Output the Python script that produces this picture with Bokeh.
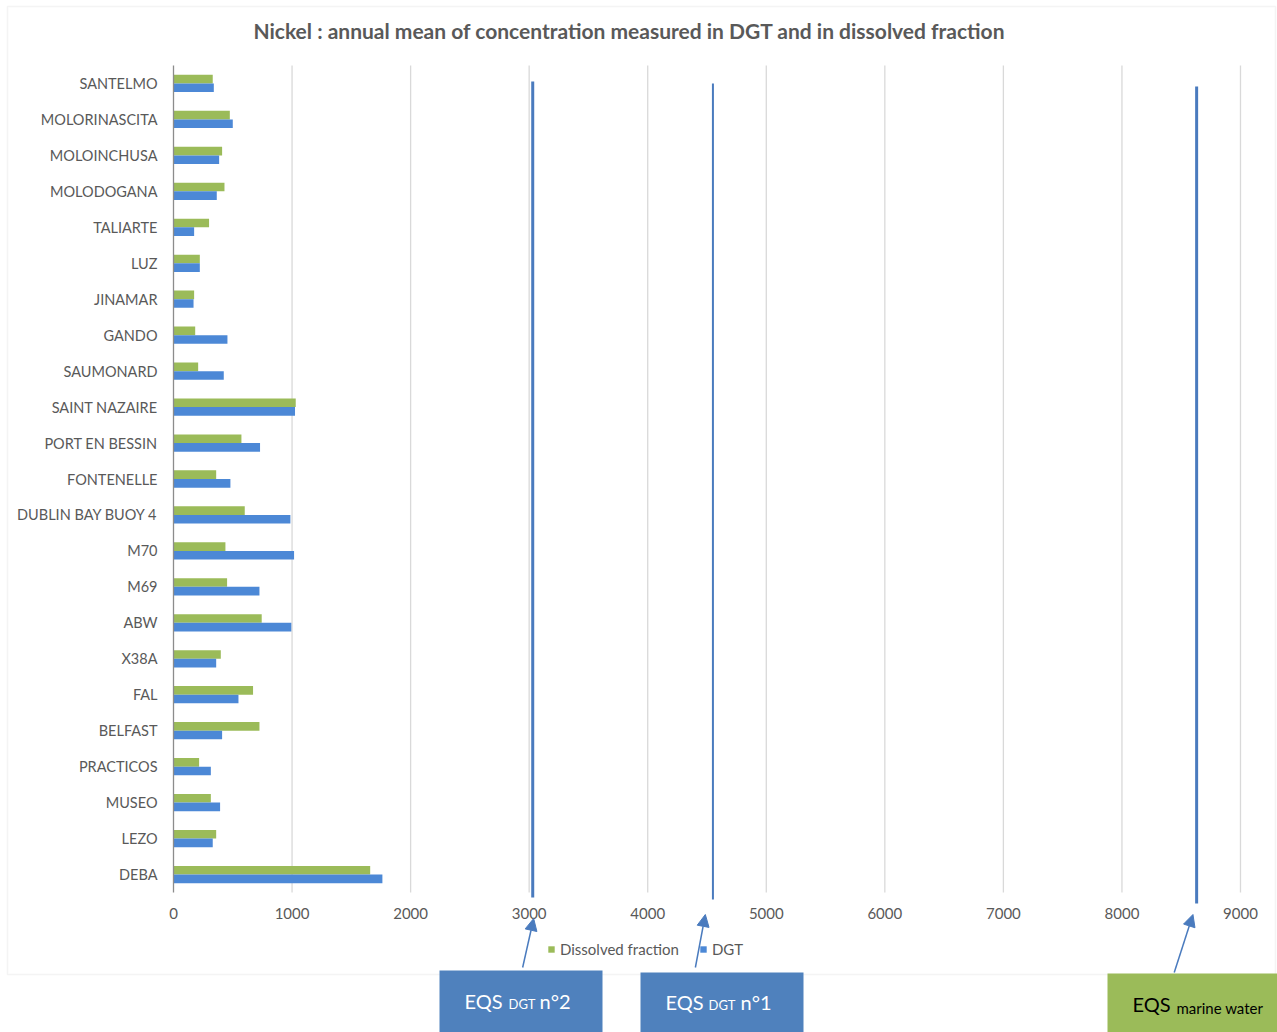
from bokeh.plotting import figure
from bokeh.models import (Range1d, FixedTicker, Legend, LegendItem, BoxAnnotation,
                          Label, Arrow, NormalHead, ColumnDataSource, LinearAxis)
from bokeh.transform import dodge
from bokeh.embed import file_html
from bokeh.resources import INLINE

# ---- data -------------------------------------------------------------
sites = ["SANTELMO", "MOLORINASCITA", "MOLOINCHUSA", "MOLODOGANA", "TALIARTE", "LUZ",
         "JINAMAR", "GANDO", "SAUMONARD", "SAINT NAZAIRE", "PORT EN BESSIN", "FONTENELLE",
         "DUBLIN BAY BUOY 4", "M70", "M69", "ABW", "X38A", "FAL", "BELFAST", "PRACTICOS",
         "MUSEO", "LEZO", "DEBA"]
dissolved = [331, 475, 410, 430, 300, 222, 174, 183, 208, 1031, 573, 360,
             601, 438, 452, 744, 399, 671, 725, 216, 315, 360, 1659]
dgt = [340, 500, 385, 365, 174, 222, 169, 455, 424, 1025, 730, 480,
       986, 1017, 725, 994, 360, 548, 410, 315, 393, 331, 1762]
x_ticks = [0, 1000, 2000, 3000, 4000, 5000, 6000, 7000, 8000, 9000]

# environmental quality standards drawn as vertical markers
eqs_values = [3030, 4550, 8630]

# ---- page geometry (pixels) -------------------------------------------
W, H = 1277, 1032
PLOT_L, PLOT_R, PLOT_T, PLOT_B = 173, 1240, 65, 892
X_MAX = 9000

# ---- styling ----------------------------------------------------------
FONT = "Lato"
GREY = "#595959"
GREEN = "#9BBB59"
BLUE = "#4C88D6"
EQS_BLUE = "#4F81BD"
MARKER_BLUE = "#4A7BBE"

n = len(sites)
pos = [n - 1 - i for i in range(n)]  # first site at the top

# value ranges extended so that the value area sits inside the page frame
kx = (PLOT_R - PLOT_L) / X_MAX
band = (PLOT_B - PLOT_T) / n
x_range = Range1d(-PLOT_L / kx, X_MAX + (W - PLOT_R) / kx)
y_range = Range1d(-0.5 - (H - PLOT_B) / band, n - 0.5 + PLOT_T / band)

p = figure(width=W, height=H, output_backend="svg", toolbar_location=None,
           x_range=x_range, y_range=y_range, x_axis_location=None,
           y_axis_location=None, title_location=None, min_border=0)
p.outline_line_color = None
p.background_fill_color = "white"
p.border_fill_color = "white"
p.grid.visible = False

# pixel space for page decorations (y grows downward)
p.extra_x_ranges = {"px": Range1d(0, W)}
p.extra_y_ranges = {"px": Range1d(H, 0)}

# outer chart border
p.add_layout(BoxAnnotation(left=7, right=W - 2, top=6, bottom=974,
                           x_range_name="px", y_range_name="px",
                           fill_alpha=0, line_color="#D9D9D9", line_width=1.5))

src = ColumnDataSource(dict(site=sites, pos=pos, dissolved=dissolved, dgt=dgt))

# vertical grid lines at the value ticks
grid_src = ColumnDataSource(dict(x=x_ticks[1:]))
p.segment(x0="x", y0=-0.5, x1="x", y1=n - 0.5, source=grid_src,
          line_color="#D9D9D9", line_width=1.3)

# bars
BAR_H = 0.24
r_diss = p.hbar(y=dodge("pos", BAR_H / 2), left=0, right="dissolved", height=BAR_H,
                source=src, fill_color=GREEN, line_color=None)
r_dgt = p.hbar(y=dodge("pos", -BAR_H / 2), left=0, right="dgt", height=BAR_H,
               source=src, fill_color=BLUE, line_color=None)

# EQS vertical markers
eqs_src = ColumnDataSource(dict(x=eqs_values, top=[81, 83, 86], bottom=[897, 899, 903],
                                w=[3, 2, 3]))
p.segment(x0="x", y0="bottom", x1="x", y1="top", line_width="w", line_color=MARKER_BLUE,
          source=eqs_src, y_range_name="px")

# axes drawn at fixed positions inside the page
xa = LinearAxis(fixed_location=-0.5, bounds=(0, X_MAX))
xa.ticker = FixedTicker(ticks=x_ticks)
xa.axis_line_color = None
xa.major_tick_line_color = None
xa.minor_tick_line_color = None
xa.major_label_standoff = 9
xa.major_label_text_font = FONT
xa.major_label_text_font_size = "15px"
xa.major_label_text_color = GREY
p.add_layout(xa, "below")

ya = LinearAxis(fixed_location=0, bounds=(-0.5, n - 0.5))
ya.ticker = FixedTicker(ticks=pos)
ya.major_label_overrides = {pp: s for pp, s in zip(pos, sites)}
ya.axis_line_color = "#8C8C8C"
ya.axis_line_width = 1.3
ya.major_tick_line_color = None
ya.minor_tick_line_color = None
ya.major_label_standoff = 10
ya.major_label_text_font = FONT
ya.major_label_text_font_size = "14.5px"
ya.major_label_text_color = GREY
p.add_layout(ya, "left")

# title
p.add_layout(Label(x=629, y=30, x_range_name="px", y_range_name="px",
                   text="Nickel : annual mean of concentration measured in DGT and in dissolved fraction",
                   text_font=FONT, text_font_size="21px", text_font_style="bold",
                   text_color=GREY, text_align="center", text_baseline="middle"))

# legend under the value axis
legend = Legend(items=[LegendItem(label="Dissolved fraction", renderers=[r_diss]),
                       LegendItem(label="DGT", renderers=[r_dgt])],
                orientation="horizontal", location=(547, H - 958),
                border_line_color=None, background_fill_alpha=0,
                padding=0, margin=0, spacing=20, glyph_width=8, glyph_height=8,
                label_standoff=5, label_text_font=FONT, label_text_font_size="15px",
                label_text_color=GREY)
p.add_layout(legend)

# arrows pointing at the EQS markers (x in value units, y in pixels)
arrow_start_dx = [-85, -148, -189]
arrow_end_dx = [8, -64, -31]
arrow_y_start = [967, 967, 972]
arrow_y_end = [918, 914, 914]
for v, sdx, edx, ys, ye in zip(eqs_values, arrow_start_dx, arrow_end_dx, arrow_y_start, arrow_y_end):
    p.add_layout(Arrow(end=NormalHead(size=12, fill_color=MARKER_BLUE, line_color=MARKER_BLUE),
                       x_start=v + sdx, y_start=ys, x_end=v + edx, y_end=ye,
                       y_range_name="px", line_color=MARKER_BLUE, line_width=1.5))

# EQS caption boxes
boxes = [(439, 602, 970, EQS_BLUE), (640, 803, 972, EQS_BLUE), (1107, W, 973, GREEN)]
for l, r, t, c in boxes:
    p.add_layout(BoxAnnotation(left=l, right=r, top=t, bottom=H,
                               x_range_name="px", y_range_name="px",
                               fill_color=c, fill_alpha=1, line_color=None))

captions = [
    [("EQS", 464, 1000, "20px", "white"), ("DGT", 508, 1003, "13px", "white"), ("n°2", 539, 1000, "20px", "white")],
    [("EQS", 665, 1001, "20px", "white"), ("DGT", 708, 1004, "13px", "white"), ("n°1", 740, 1001, "20px", "white")],
    [("EQS", 1132, 1003, "20px", "black"), ("marine water", 1176, 1007, "15px", "black")],
]
for parts in captions:
    for txt, x, y, fs, col in parts:
        p.add_layout(Label(x=x, y=y, x_range_name="px", y_range_name="px", text=txt,
                           text_font=FONT, text_font_size=fs, text_color=col,
                           text_align="left", text_baseline="middle"))

open("out.html", "w").write(file_html(p, INLINE))
